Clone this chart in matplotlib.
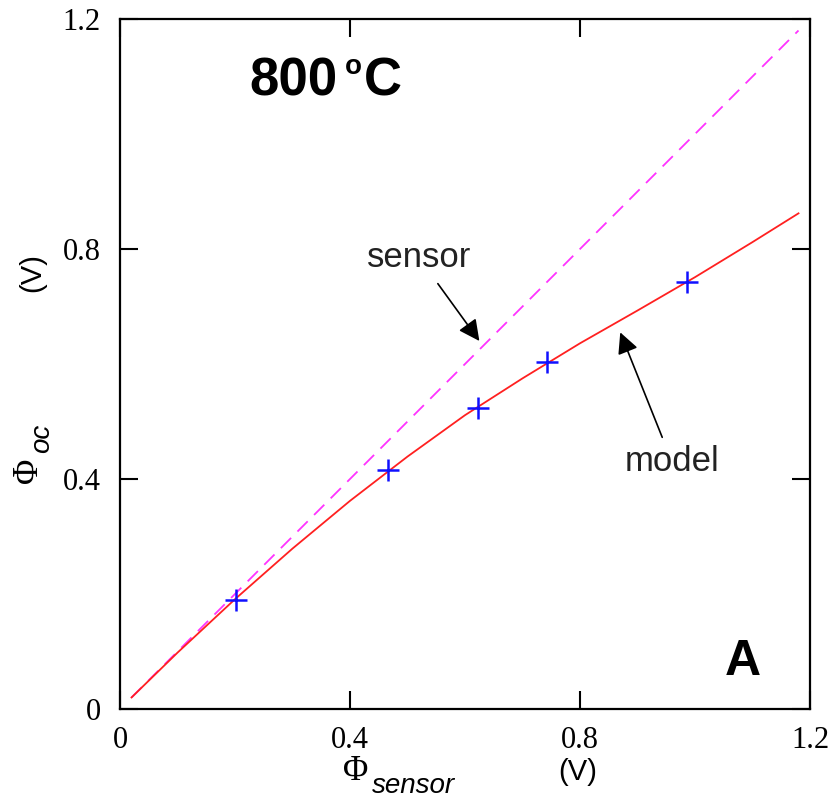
import matplotlib
matplotlib.use("Agg")
import matplotlib.pyplot as plt
import numpy as np

# Data
sensor_x = [0.02, 1.18]
sensor_y = [0.02, 1.18]
model_x = [0.02, 0.1, 0.2, 0.3, 0.4, 0.5, 0.6, 0.7, 0.8, 0.9, 1.0, 1.1, 1.18]
model_y = [0.02, 0.098, 0.191, 0.279, 0.362, 0.439, 0.511, 0.575, 0.636, 0.693, 0.751, 0.812, 0.862]
meas_x = [0.202, 0.466, 0.623, 0.743, 0.986]
meas_y = [0.19, 0.416, 0.523, 0.603, 0.743]
ticks = [0, 0.4, 0.8, 1.2]
tick_labels = ["0", "0.4", "0.8", "1.2"]

W, H = 839, 798
fig = plt.figure(figsize=(W / 100, H / 100), dpi=100)
ax = fig.add_axes([120 / W, 1 - 709 / H, 690 / W, 690 / H])

ax.plot(sensor_x, sensor_y, color="#ff33ff", lw=1.3, dashes=(8, 5))
ax.plot(model_x, model_y, color="#ff2020", lw=1.3)
ax.plot(meas_x, meas_y, ls="none", marker="+", color="#1010ff", ms=16, mew=1.8)

ax.set_xlim(0, 1.2)
ax.set_ylim(0, 1.2)
ax.set_xticks(ticks)
ax.set_yticks(ticks)
ax.set_xticklabels(tick_labels, family="Liberation Serif", fontsize=22)
ax.set_yticklabels(tick_labels, family="Liberation Serif", fontsize=22)
ax.tick_params(direction="in", length=13, width=1.5, top=True, right=True)
ax.tick_params(axis="y", pad=14)
ax.tick_params(axis="x", pad=12)
for s in ax.spines.values():
    s.set_linewidth(1.6)

def fx(px):
    return px / W

def fy(py):
    return 1 - py / H

# Title
fig.text(fx(249), fy(81), "800", family="Liberation Sans", weight="bold", fontsize=38, va="center", ha="left")
fig.text(fx(345), fy(67), "o", family="Liberation Sans", weight="bold", fontsize=20, va="center", ha="left")
fig.text(fx(364), fy(81), "C", family="Liberation Sans", weight="bold", fontsize=38, va="center", ha="left")

# Panel letter
fig.text(fx(743), fy(662), "A", family="Liberation Sans", weight="bold", fontsize=36, va="center", ha="center")

# Annotations
ax.annotate("sensor", xy=(0.625, 0.64), xytext=(0.52, 0.785), textcoords="data",
            family="Liberation Sans", fontsize=25, color="#222222", ha="center", va="center",
            arrowprops=dict(arrowstyle="-|>", color="black", lw=1.2, mutation_scale=32,
                            shrinkA=6, shrinkB=0))
ax.annotate("model", xy=(0.87, 0.655), xytext=(0.96, 0.43), textcoords="data",
            family="Liberation Sans", fontsize=25, color="#222222", ha="center", va="center",
            arrowprops=dict(arrowstyle="-|>", color="black", lw=1.2, mutation_scale=32,
                            shrinkA=4, shrinkB=0))

# X label
fig.text(fx(356), fy(772), "Φ", family="Liberation Serif", fontsize=25, ha="center", va="center")
fig.text(fx(372), fy(786), "sensor", family="Liberation Sans", style="italic", fontsize=20, ha="left", va="center")
fig.text(fx(578), fy(772), "(V)", family="Liberation Sans", fontsize=21, ha="center", va="center")

# Y label
fig.text(fx(28), fy(470), "Φ", family="Liberation Serif", fontsize=25, ha="center", va="center", rotation=90)
fig.text(fx(42), fy(438), "oc", family="Liberation Sans", style="italic", fontsize=20, ha="center", va="center", rotation=90)
fig.text(fx(32), fy(273), "(V)", family="Liberation Sans", fontsize=21, ha="center", va="center", rotation=90)

fig.savefig("out.png", dpi=100)
